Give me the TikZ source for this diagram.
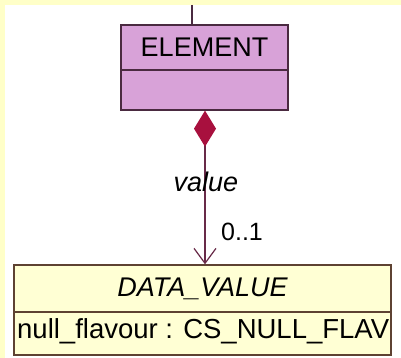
\documentclass[tikz,border=0pt]{standalone}
\usepackage{fontspec}
\setmainfont{Liberation Sans}
\usetikzlibrary{arrows.meta}
\definecolor{bgyellow}{HTML}{FFFFC8}
\definecolor{elemfill}{HTML}{D8A2D8}
\definecolor{elemline}{HTML}{4A2A40}
\definecolor{dvfill}{HTML}{FFFFD4}
\definecolor{dvline}{HTML}{5E4232}
\definecolor{compcol}{HTML}{A8103E}
\definecolor{linkcol}{HTML}{682A48}
\newcommand{\umlfont}{\fontsize{27}{30}\selectfont}
\begin{document}
\begin{tikzpicture}[x=1pt,y=-1pt,
    part/.style={draw,rectangle,line width=1.3pt,inner sep=0pt,
      minimum width=#1,font=\umlfont},
    elempart/.style={part=167pt,fill=elemfill,draw=elemline},
    dvpart/.style={part=377pt,fill=dvfill,draw=dvline},
    lbl/.style={inner sep=0pt,font=\umlfont}]
  % background
  \fill[bgyellow] (0,0) rectangle (401,358);
  \fill[white] (5,5) rectangle (401,358);
  \useasboundingbox (0,0) rectangle (401,358);
  % classes
  \node[elempart,minimum height=45pt] (elemname) at (204.5,47.5) {ELEMENT};
  \node[elempart,minimum height=40pt] (elemattr) at (204.5,90) {};
  \node[dvpart,minimum height=47pt] (dvname) at (202.5,288.5) {\itshape DATA\_VALUE};
  \node[dvpart,minimum height=43pt] (dvattr) at (202.5,333.5) {};
  \node[lbl,anchor=west,font=\fontsize{27.5}{30}\selectfont] (nullattr)
    at (17,331) {null\_flavour : CS\_NULL\_FLAV};
  % links
  \coordinate (up) at (192,5);
  \draw[line width=1.3pt,elemline] (up) -- (up |- elemname.north);
  \draw[line width=1.2pt,linkcol,
      {Diamond[length=36pt,width=22pt,color=compcol,fill=compcol]}-{Straight Barb[length=15pt,width=22pt]}]
    (elemattr.south -| 205,0) -- (dvname.north -| 205,0);
  \node[lbl,font=\umlfont\itshape] (rolename) at (206,182) {value};
  \node[lbl,font=\fontsize{25}{28}\selectfont] (mult) at (242,232) {0..1};
\end{tikzpicture}
\end{document}
